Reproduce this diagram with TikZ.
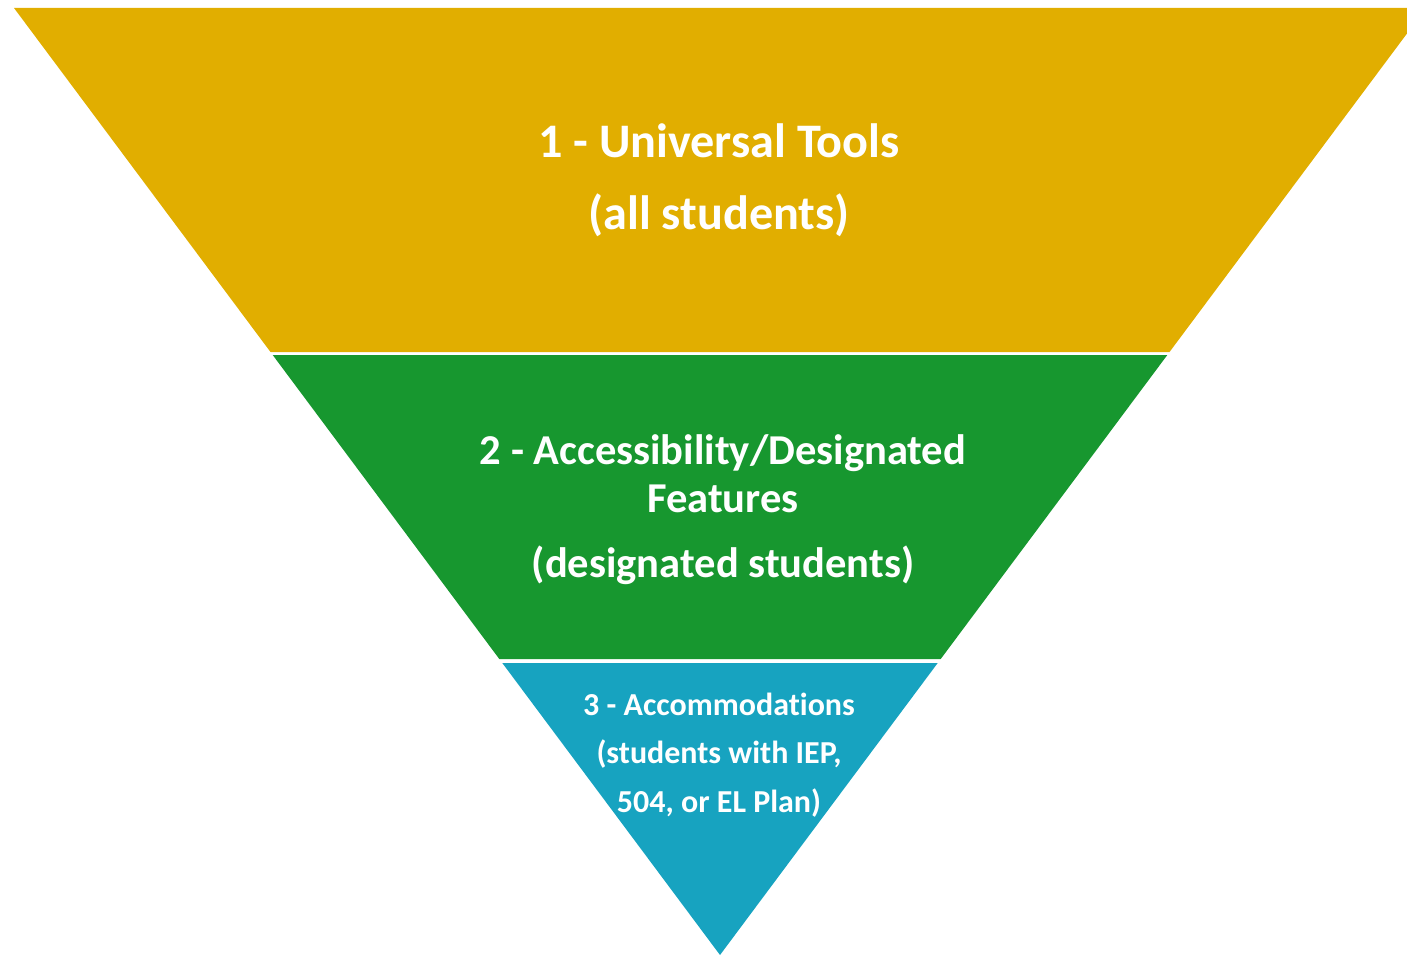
\documentclass[tikz,border=0pt]{standalone}
\usepackage{fontspec}
\setmainfont[Ligatures=NoCommon]{Carlito}

\definecolor{tieryellow}{HTML}{E1AE00}
\definecolor{tiergreen}{HTML}{17972F}
\definecolor{tierblue}{HTML}{17A3C0}

\begin{document}
\begin{tikzpicture}[x=0.01cm,y=-0.01cm,
  band/.style={draw=none},
  tiertext/.style={text=white,anchor=base,inner sep=0pt},
  bigtext/.style={tiertext,font=\fontsize{13.7}{16}\bfseries},
  midtext/.style={tiertext,font=\fontsize{12.1}{15}\bfseries},
  smalltext/.style={tiertext,font=\fontsize{9.1}{11}\bfseries}]
\useasboundingbox (0,0) rectangle (1407,955);
\clip (0,0) rectangle (1407,955);
% the three bands of the upside-down triangle
\fill[band,tieryellow] (14,8) -- (1426,8) -- (1169.5,352) -- (270.5,352) -- cycle;
\fill[band,tiergreen] (272.7,355) -- (1167.3,355) -- (940.7,659) -- (499.3,659) -- cycle;
\fill[band,tierblue] (502.3,663) -- (937.7,663) -- (720,955) -- cycle;
% labels
\node[bigtext] (tools) at (719,158) {1 - Universal Tools};
\node[bigtext] (toolswho) at (719,230) {(all students)};
\node[midtext] (features) at (723,464) {2 - Accessibility/Designated};
\node[midtext] (featurescont) at (723,512) {Features};
\node[midtext] (featureswho) at (723,577) {(designated students)};
\node[smalltext] (accom) at (719,715) {3 - Accommodations};
\node[smalltext] (accomwho) at (719,763) {(students with IEP,};
\node[smalltext] (accomwhocont) at (719,812) {504, or EL Plan)};
\end{tikzpicture}
\end{document}
